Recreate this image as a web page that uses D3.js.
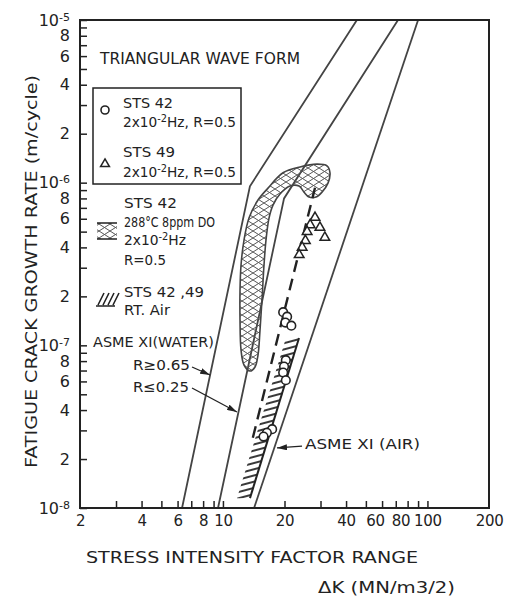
<!DOCTYPE html>
<html>
<head>
<meta charset="utf-8">
<script src="https://cdn.jsdelivr.net/npm/d3@7"></script>
<style>
  body { margin: 0; background: #fff; }
  svg { font-family: 'DejaVu Sans', sans-serif; }
</style>
</head>
<body>
<svg id="chart" width="518" height="602"></svg>
<script>
// tick positions and labels
const xTickValues = [3, 4, 5, 6, 7, 8, 9, 10, 20, 30, 40, 50, 60, 70, 80, 90, 100];
const xLabelValues = [2, 4, 6, 8, 10, 20, 40, 60, 80, 100, 200];
const yLabelMantissa = [1, 2, 4, 6, 8];
const yLabelExponents = [-8, -7, -6, -5];

// ASME XI reference curves [dK, da/dN]
const asmeWaterHigh = [[6.31, 1e-8], [13.55, 9.5e-7], [45.2, 1e-5]];
const asmeWaterLow = [[9.46, 1e-8], [19.9, 8.0e-7], [71.8, 1e-5]];
const asmeAir = [[14.2, 1e-8], [90, 1e-5]];

// test data
const sts42 = [[19.7, 1.6e-7], [20.6, 1.5e-7], [20.2, 1.38e-7], [21.6, 1.32e-7],
    [20.3, 8.1e-8], [19.9, 7.4e-8], [19.7, 6.8e-8], [20.3, 6.1e-8],
    [17.4, 3.05e-8], [16.4, 2.9e-8], [15.8, 2.75e-8]];
const sts49 = [[28.2, 6.1e-7], [26.7, 5.5e-7], [29.8, 5.3e-7], [31.5, 4.6e-7],
    [25.8, 5.0e-7], [25.3, 4.4e-7], [24.4, 4.0e-7], [23.6, 3.6e-7]];
const trendLine = [[14.0, 2.7e-8], [28.2, 9.3e-7]];

// 288C water scatter band outline
const waterBand = [[13.56, 6.95e-8], [12.68, 7.57e-8], [12.26, 9.36e-8], [12.12, 1.43e-7],
    [12.12, 2.19e-7], [12.26, 3.12e-7], [12.68, 4.44e-7], [13.41, 6.06e-7],
    [14.84, 7.82e-7], [16.61, 9.26e-7], [19.67, 1.15e-6], [23.82, 1.25e-6],
    [28.84, 1.30e-6], [32.28, 1.27e-6], [33.38, 1.15e-6], [32.64, 9.94e-7],
    [30.51, 8.75e-7], [28.51, 8.16e-7], [26.36, 8.16e-7], [24.91, 8.75e-7],
    [23.55, 9.53e-7], [21.28, 9.53e-7], [19.01, 8.51e-7], [17.57, 7.28e-7],
    [16.80, 6.06e-7], [16.24, 4.44e-7], [15.88, 3.12e-7], [15.52, 1.90e-7],
    [15.18, 1.24e-7], [14.84, 8.71e-8], [14.35, 7.36e-8]];

// room temperature air band
const airBandRight = [[13.56, 1.15e-8], [23.55, 1.11e-7]];
const airBandLeft = [[11.71, 1.15e-8], [20.34, 1.11e-7]];

// annotation arrows [from, to]
const arrowHigh = [[7.06, 7.36e-8], [8.65, 6.57e-8]];
const arrowLow = [[7.06, 5.47e-8], [11.71, 3.89e-8]];
const arrowAir = [[24.36, 2.40e-8], [18.38, 2.34e-8]];

const ink = '#222';
const svg = d3.select('#chart');

const x = d3.scaleLog().domain([2, 200]).range([80, 489]);
const y = d3.scaleLog().domain([1e-8, 1e-5]).range([508, 20]);

// y ticks: every 1..9 multiple, labels on selected mantissas
const yTicks = [];
const yLabels = [];
yLabelExponents.forEach((e) => {
    for (let m = 1; m <= 9; m++) {
        if (e === -5 && m > 1) break;
        yTicks.push({ v: m * Math.pow(10, e), m, e });
    }
    yLabelMantissa.forEach((m) => {
        if (e === -5 && m > 1) return;
        yLabels.push({ v: m * Math.pow(10, e), m, e });
    });
});

const defs = svg.append('defs');

defs.append('pattern')
    .attr('id', 'cross')
    .attr('patternUnits', 'userSpaceOnUse')
    .attr('width', 11)
    .attr('height', 7)
    .call((p) => {
        p.append('path').attr('d', 'M0,0L11,7M0,7L11,0')
            .attr('stroke', '#555').attr('stroke-width', 1);
    });

defs.append('pattern')
    .attr('id', 'lines')
    .attr('patternUnits', 'userSpaceOnUse')
    .attr('width', 10)
    .attr('height', 6)
    .attr('patternTransform', 'rotate(-15)')
    .call((p) => {
        p.append('path').attr('d', 'M0,3H10')
            .attr('stroke', '#222').attr('stroke-width', 1.8);
    });

defs.append('marker')
    .attr('id', 'arrow')
    .attr('viewBox', '0 0 10 6')
    .attr('refX', 10)
    .attr('refY', 3)
    .attr('markerWidth', 10)
    .attr('markerHeight', 6)
    .attr('markerUnits', 'userSpaceOnUse')
    .attr('orient', 'auto')
    .append('path')
    .attr('d', 'M0,0L10,3L0,6Z')
    .attr('fill', ink);

const line = d3.line().x((d) => x(d[0])).y((d) => y(d[1]));

// ASME curves
svg.append('g')
    .selectAll('path')
    .data([asmeWaterHigh, asmeWaterLow, asmeAir])
    .enter()
    .append('path')
    .attr('d', line)
    .attr('fill', 'none')
    .attr('stroke', '#444')
    .attr('stroke-width', 1.8);

// air band
svg.append('path')
    .attr('d', line(airBandRight.concat(airBandLeft.slice().reverse())))
    .attr('fill', 'url(#lines)');
svg.append('path')
    .attr('d', line(airBandRight))
    .attr('stroke', '#222')
    .attr('stroke-width', 2)
    .attr('fill', 'none');

// water band
svg.append('path')
    .attr('d', d3.line().x((d) => x(d[0])).y((d) => y(d[1]))
        .curve(d3.curveCatmullRomClosed.alpha(0.5))(waterBand))
    .attr('fill', 'url(#cross)')
    .attr('stroke', '#444')
    .attr('stroke-width', 1.6);

// trend
svg.append('path')
    .attr('d', line(trendLine))
    .attr('fill', 'none')
    .attr('stroke', '#222')
    .attr('stroke-width', 2.4)
    .attr('stroke-dasharray', '12,7');

svg.append('g')
    .selectAll('circle')
    .data(sts42)
    .enter()
    .append('circle')
    .attr('cx', (d) => x(d[0]))
    .attr('cy', (d) => y(d[1]))
    .attr('r', 4.3)
    .attr('fill', '#fff')
    .attr('stroke', '#222')
    .attr('stroke-width', 1.6);

svg.append('g')
    .selectAll('path')
    .data(sts49)
    .enter()
    .append('path')
    .attr('d', d3.symbol(d3.symbolTriangle).size(40))
    .attr('transform', (d) => `translate(${x(d[0])},${y(d[1])})`)
    .attr('fill', '#fff')
    .attr('stroke', '#222')
    .attr('stroke-width', 1.5);

// axes
const xAxis = svg.append('g')
    .attr('transform', 'translate(0,508)')
    .call(d3.axisBottom(x).tickValues(xTickValues).tickSize(-7).tickSizeOuter(0).tickFormat(''));
const yAxis = svg.append('g')
    .attr('transform', 'translate(80,0)')
    .call(d3.axisLeft(y).tickValues(yTicks.map((d) => d.v)).tickSize(-7).tickSizeOuter(0).tickFormat(''));
[xAxis, yAxis].forEach((g) => {
    g.select('.domain').remove();
    g.selectAll('line').attr('stroke', ink).attr('stroke-width', 1.5);
});

// hand lettering sits a little left of the 60 and 80 ticks
svg.append('g')
    .attr('transform', 'translate(0,508)')
    .call(d3.axisBottom(x).tickValues(xLabelValues).tickSize(0).tickPadding(7).tickFormat(d3.format('d')))
    .call((g) => g.select('.domain').remove())
    .selectAll('text')
    .attr('font-size', 15)
    .attr('font-family', 'DejaVu Sans, sans-serif')
    .attr('letter-spacing', '-0.3')
    .attr('dx', (d) => (d === 60 || d === 80 ? -7 : 0))
    .attr('fill', ink);

svg.append('g')
    .attr('transform', 'translate(80,0)')
    .call(d3.axisLeft(y).tickValues(yLabels.map((d) => d.v)).tickSize(0).tickPadding(10).tickFormat(''))
    .call((g) => g.select('.domain').remove())
    .selectAll('text')
    .data(yLabels)
    .attr('font-size', 16)
    .attr('font-family', 'DejaVu Sans, sans-serif')
    .attr('fill', ink)
    .each(function (d) {
        const t = d3.select(this);
        if (d.m === 1) {
            t.text('10');
            t.append('tspan').attr('dy', '-0.45em').attr('font-size', 11).text(String(d.e));
        } else {
            t.text(String(d.m));
        }
    });

svg.append('rect')
    .attr('x', 80).attr('y', 20)
    .attr('width', 409).attr('height', 488)
    .attr('fill', 'none')
    .attr('stroke', ink)
    .attr('stroke-width', 2);

// text helper
const label = (tx, ty, str, size, len) => {
    const t = svg.append('text')
        .attr('x', tx).attr('y', ty)
        .attr('font-size', size)
        .attr('fill', ink)
        .text(str);
    if (len) t.attr('textLength', len).attr('lengthAdjust', 'spacingAndGlyphs');
    return t;
};
const hzLabel = (tx, ty, tail, len) => {
    const t = svg.append('text')
        .attr('x', tx).attr('y', ty)
        .attr('font-size', 14)
        .attr('fill', ink)
        .attr('textLength', len)
        .attr('lengthAdjust', 'spacingAndGlyphs');
    t.append('tspan').text('2x10');
    t.append('tspan').attr('dy', -5).attr('font-size', 10).text('-2');
    t.append('tspan').attr('dy', 5).text('Hz' + tail);
};

label(100, 64, 'TRIANGULAR WAVE FORM', 15, 200);

// legend
svg.append('rect')
    .attr('x', 93).attr('y', 88)
    .attr('width', 148).attr('height', 96)
    .attr('fill', '#fff')
    .attr('stroke', ink)
    .attr('stroke-width', 1.5);
svg.append('circle')
    .attr('cx', 105).attr('cy', 110).attr('r', 4)
    .attr('fill', 'none').attr('stroke', '#222').attr('stroke-width', 1.6);
svg.append('path')
    .attr('d', d3.symbol(d3.symbolTriangle).size(34))
    .attr('transform', 'translate(105,164)')
    .attr('fill', 'none').attr('stroke', '#222').attr('stroke-width', 1.5);
label(123, 108, 'STS 42', 14, 50);
hzLabel(123, 127, ', R=0.5', 113);
label(123, 157, 'STS 49', 14, 52);
hzLabel(123, 177, ', R=0.5', 113);

svg.append('rect')
    .attr('x', 97).attr('y', 223)
    .attr('width', 20).attr('height', 16)
    .attr('fill', 'url(#cross)');
svg.append('path')
    .attr('d', 'M97,223H117M97,239H117')
    .attr('stroke', '#222').attr('stroke-width', 1.6);
label(124, 208, 'STS 42', 14, 53);
label(124, 227, '288°C 8ppm DO', 14, 91);
hzLabel(124, 245, '', 62);
label(124, 265, 'R=0.5', 14, 42);

svg.append('path')
    .attr('d', d3.range(4).map((i) => `M${98 + i * 5},305L${104 + i * 5},293`).join('') + 'M96,306H115')
    .attr('stroke', '#222').attr('stroke-width', 1.6).attr('fill', 'none');
label(124, 297, 'STS 42 ,49', 14, 80);
label(124, 315, 'RT. Air', 14, 46);

label(93, 347, 'ASME XI(WATER)', 14, 121);
label(133, 370, 'R≥0.65', 14, 57);
label(133, 392, 'R≤0.25', 14, 56);
label(305, 449, 'ASME XI (AIR)', 14, 115);

svg.append('g')
    .selectAll('path')
    .data([arrowHigh, arrowLow, arrowAir])
    .enter()
    .append('path')
    .attr('d', line)
    .attr('stroke', ink)
    .attr('stroke-width', 1.3)
    .attr('fill', 'none')
    .attr('marker-end', 'url(#arrow)');

// axis titles
label(86, 563, 'STRESS INTENSITY FACTOR RANGE', 16, 332);
label(318, 593, 'ΔK (MN/m3/2)', 16, 137);
svg.append('text')
    .attr('transform', 'translate(37,468) rotate(-90)')
    .attr('font-size', 16)
    .attr('fill', ink)
    .attr('textLength', 393)
    .attr('lengthAdjust', 'spacingAndGlyphs')
    .text('FATIGUE CRACK GROWTH RATE (m/cycle)');
</script>
</body>
</html>
